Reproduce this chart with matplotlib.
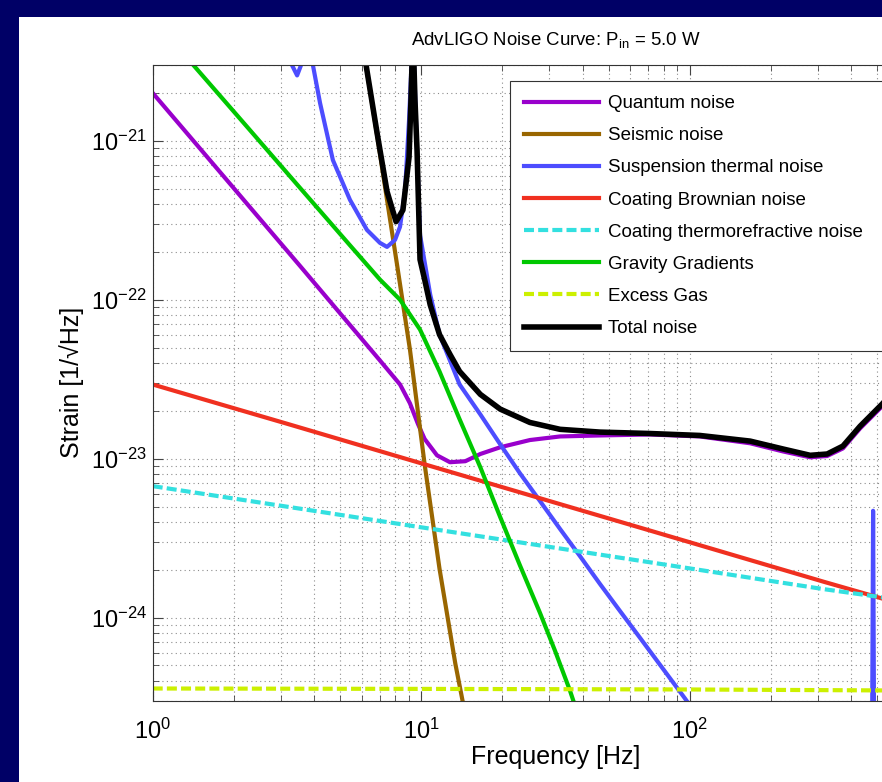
import matplotlib
matplotlib.use("Agg")
import matplotlib.pyplot as plt
import numpy as np
from matplotlib.patches import Rectangle

plt.rcParams["font.family"] = ["Liberation Sans", "DejaVu Sans"]
plt.rcParams["mathtext.fontset"] = "custom"
plt.rcParams["mathtext.rm"] = "Liberation Sans"
plt.rcParams["mathtext.it"] = "Liberation Sans:italic"
plt.rcParams["mathtext.bf"] = "Liberation Sans:bold"
plt.rcParams["axes.unicode_minus"] = False

# ---- data (frequency in Hz, strain in 1/sqrt(Hz)) ----
quantum_f = [1.0, 2.30, 3.54, 5.43, 7.02, 8.34, 9.08, 9.73, 10.3, 11.45, 12.8, 14.6,
             16.6, 19.7, 25.4, 32.9, 46.3, 71.1, 109, 168, 223, 281, 325, 372, 431,
             520, 557]
quantum_h = [2.0e-21, 3.83e-22, 1.63e-22, 6.93e-23, 4.15e-23, 2.93e-23, 2.23e-23,
             1.65e-23, 1.33e-23, 1.05e-23, 9.5e-24, 9.64e-24, 1.07e-23, 1.18e-23,
             1.31e-23, 1.38e-23, 1.40e-23, 1.42e-23, 1.38e-23, 1.25e-23, 1.11e-23,
             1.02e-23, 1.04e-23, 1.16e-23, 1.55e-23, 2.13e-23, 2.43e-23]

seismic_f = [6.02, 6.85, 7.46, 8.13, 9.08, 10.3, 11.7, 13.4, 14.7]
seismic_h = [4.3e-21, 1.09e-21, 4.25e-22, 1.66e-22, 4.86e-23, 9.2e-24, 2.03e-24,
             5.13e-25, 2.3e-25]

susp_f = [3.19, 3.30, 3.45, 3.57, 3.69, 3.82, 3.95, 4.20, 4.69, 5.43, 6.28, 7.02,
          7.46, 7.99, 8.34, 8.71, 9.01, 9.32, 9.56, 9.90, 10.8, 11.7, 13.9, 16.6,
          19.7, 23.3, 27.7, 32.9, 39.0, 46.3, 55.0, 65.3, 77.5, 96.0, 109,
          np.nan, 478, 482, 486]
susp_h = [4.3e-21, 3.0e-21, 2.58e-21, 3.0e-21, 4.9e-21, 4.9e-21, 3.0e-21, 1.73e-21,
          7.56e-22, 4.25e-22, 2.75e-22, 2.28e-22, 2.15e-22, 2.38e-22, 2.88e-22,
          4.91e-22, 1.35e-21, 4.9e-21, 1.35e-21, 2.56e-22, 1.08e-22, 6.04e-23,
          2.93e-23, 1.90e-23, 1.23e-23, 8.11e-24, 5.41e-24, 3.61e-24, 2.44e-24,
          1.63e-24, 1.10e-24, 7.46e-25, 5.05e-25, 3.1e-25, 2.3e-25,
          np.nan, 2.0e-25, 4.7e-24, 2.0e-25]

brownian_f = [1.0, 3.16, 10.0, 31.6, 100, 316, 520, 557]
brownian_h = [2.93e-23, 1.66e-23, 9.35e-24, 5.28e-24, 2.98e-24, 1.68e-24, 1.32e-24,
              1.28e-24]

thermoref_f = [1.0, 3.16, 10.0, 31.6, 100, 316, 557]
thermoref_h = [6.72e-24, 4.99e-24, 3.70e-24, 2.75e-24, 2.04e-24, 1.51e-24, 1.32e-24]

gravity_f = [1.32, 2.30, 3.54, 5.43, 7.02, 8.34, 9.90, 11.7, 13.9, 16.6, 19.7, 23.3,
             27.7, 31.5, 35.8, 37.7]
gravity_h = [3.44e-21, 1.17e-21, 5.05e-22, 2.20e-22, 1.34e-22, 1.0e-22, 6.49e-23,
             3.54e-23, 1.77e-23, 8.84e-24, 4.28e-24, 2.14e-24, 1.07e-24, 6.19e-25,
             3.48e-25, 2.68e-25]

gas_f = [1.0, 10.0, 100, 557]
gas_h = [3.58e-25, 3.56e-25, 3.53e-25, 3.48e-25]

total_f = [6.02, 6.85, 7.46, 8.06, 8.55, 9.01, 9.16, 9.32, 9.48, 9.65,
           9.90, 10.3, 10.8, 11.7, 12.8, 13.9, 16.6, 19.7, 25.4, 32.9, 46.3, 71.1,
           109, 168, 223, 281, 325, 372, 431, 520, 557]
total_h = [4.3e-21, 1.12e-21, 4.8e-22, 3.1e-22, 3.67e-22, 7.9e-22,
           1.8e-21, 4.9e-21, 1.8e-21, 8.75e-22, 1.79e-22, 1.34e-22, 9.3e-23, 6.04e-23,
           4.53e-23, 3.54e-23, 2.54e-23, 2.05e-23, 1.69e-23, 1.53e-23, 1.47e-23,
           1.44e-23, 1.40e-23, 1.29e-23, 1.15e-23, 1.05e-23, 1.07e-23, 1.20e-23,
           1.60e-23, 2.20e-23, 2.50e-23]

x_ticks = [1, 10, 100]
y_ticks = [1e-24, 1e-23, 1e-22, 1e-21]

W, H = 882, 782
fig = plt.figure(figsize=(W / 100, H / 100), dpi=100, facecolor="#000066")
fig.add_artist(Rectangle((19 / W, 0), 1, 1 - 17 / H, transform=fig.transFigure,
                         facecolor="white", edgecolor="none", zorder=0))

# axes run to 1 kHz, the right part lies outside the saved picture
ax = fig.add_axes([152.7 / W, 81.3 / H, 805.5 / W, 635.7 / H])
ax.set_xscale("log")
ax.set_yscale("log")

lw = 3.0
dash = (2.4, 1.0)
ax.plot(quantum_f, quantum_h, color="#9900cc", lw=lw, label="Quantum noise")
ax.plot(seismic_f, seismic_h, color="#996600", lw=lw, label="Seismic noise")
ax.plot(susp_f, susp_h, color="#4d4dff", lw=lw, label="Suspension thermal noise")
ax.plot(brownian_f, brownian_h, color="#f03020", lw=lw, label="Coating Brownian noise")
ax.plot(thermoref_f, thermoref_h, color="#33e0e0", lw=lw, dashes=dash,
        label="Coating thermorefractive noise")
ax.plot(gravity_f, gravity_h, color="#00c800", lw=lw, label="Gravity Gradients")
ax.plot(gas_f, gas_h, color="#ccf000", lw=lw, dashes=dash, label="Excess Gas")
ax.plot(total_f, total_h, color="black", lw=4.0, label="Total noise")

ax.set_xlim(1, 1000)
ax.set_ylim(3e-25, 3e-21)
ax.set_xticks(x_ticks)
ax.set_yticks(y_ticks)

ax.grid(True, which="both", color="#8c8c8c", linestyle=(0, (1, 3)), linewidth=0.8)
ax.tick_params(which="both", direction="in", top=True, right=True, color="#444444")
ax.tick_params(which="major", length=7)
ax.tick_params(which="minor", length=4)
ax.tick_params(axis="x", labelsize=17, pad=13)
ax.tick_params(axis="y", labelsize=17, pad=4)
for sp in ax.spines.values():
    sp.set_linewidth(0.8)
    sp.set_color("#333333")

ax.set_xlabel("Frequency [Hz]", fontsize=18)
ax.set_ylabel("Strain [1/\u221aHz]", fontsize=18)
ax.xaxis.set_label_coords(0.5, (700.7 - 757) / 635.7)
ax.yaxis.set_label_coords((72 - 152.7) / 805.5, 0.5)
ax.xaxis.label.set_va("center")
ax.yaxis.label.set_va("center")

fig.text(556 / W, 1 - 40 / H, r"AdvLIGO Noise Curve: P$_{\mathrm{in}}$ = 5.0 W",
         ha="center", va="center", fontsize=13.4)

leg = ax.legend(loc="upper left", bbox_to_anchor=(510 / W, 1 - 81 / H, 435 / W, 0),
                bbox_transform=fig.transFigure, mode="expand", borderaxespad=0,
                fontsize=13.5, handlelength=4.0, handletextpad=0.5, borderpad=0.75,
                labelspacing=0.8, fancybox=False, framealpha=1)
leg.get_frame().set_edgecolor("#333333")
leg.get_frame().set_linewidth(0.8)

fig.savefig("out.png", dpi=100, facecolor=fig.get_facecolor())
